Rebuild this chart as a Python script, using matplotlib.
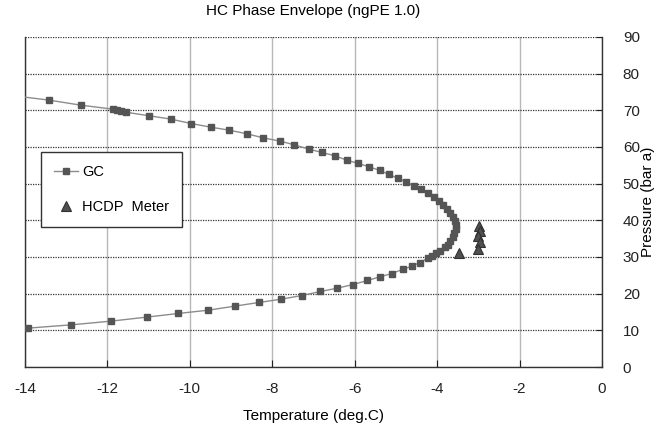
import matplotlib
matplotlib.use("Agg")
import matplotlib.pyplot as plt

plt.rcParams['font.family'] = ['Liberation Sans', 'DejaVu Sans']

# GC phase envelope (temperature degC, pressure bar a)
gc_temp = [-14.3, -13.43, -12.64, -11.86, -11.76, -11.66, -11.56, -10.98, -10.46, -9.97,
           -9.49, -9.05, -8.62, -8.22, -7.81, -7.47, -7.11, -6.79, -6.48, -6.19,
           -5.91, -5.65, -5.39, -5.17, -4.96, -4.75, -4.57, -4.39, -4.23, -4.08,
           -3.96, -3.85, -3.76, -3.68, -3.62, -3.57, -3.55, -3.55, -3.58, -3.62,
           -3.68, -3.74, -3.82, -3.92, -4.02, -4.12, -4.23, -4.42, -4.61, -4.84,
           -5.10, -5.38, -5.69, -6.04, -6.42, -6.83, -7.28, -7.78, -8.32, -8.91,
           -9.55, -10.28, -11.05, -11.92, -12.88, -13.93]
gc_pres = [74.0, 72.8, 71.4, 70.3, 70.1, 69.8, 69.5, 68.5, 67.6, 66.4,
           65.4, 64.6, 63.6, 62.5, 61.6, 60.6, 59.4, 58.5, 57.6, 56.4,
           55.5, 54.6, 53.6, 52.5, 51.5, 50.5, 49.4, 48.5, 47.4, 46.3,
           45.2, 44.2, 43.2, 42.1, 41.0, 39.9, 38.8, 37.7, 36.6, 35.5,
           34.4, 33.4, 32.6, 31.7, 31.1, 30.4, 29.6, 28.5, 27.5, 26.6,
           25.5, 24.6, 23.6, 22.5, 21.5, 20.6, 19.5, 18.5, 17.6, 16.6,
           15.5, 14.6, 13.6, 12.5, 11.5, 10.6]

# HCDP meter readings
meter_temp = [-3.47, -2.98, -2.95, -3.01, -2.97, -3.01]
meter_pres = [31.0, 38.4, 37.1, 35.7, 34.0, 32.1]

x_ticks = [-14, -12, -10, -8, -6, -4, -2, 0]
y_ticks = [0, 10, 20, 30, 40, 50, 60, 70, 80, 90]

fig = plt.figure(figsize=(6.67, 4.29), dpi=100)
ax = fig.add_axes([0.0375, 0.1445, 0.865, 0.7693])

ax.plot(gc_temp, gc_pres, color='#8c8c8c', lw=1.0, marker='s', ms=5,
        mfc='#555555', mec='#555555', label='GC', zorder=3)
ax.plot(meter_temp, meter_pres, ls='none', marker='^', ms=6.5,
        mfc='#505050', mec='#303030', mew=0.8, label='HCDP  Meter', zorder=4)

ax.set_xlim(-14, 0)
ax.set_ylim(0, 90)
ax.set_xticks(x_ticks)
ax.set_yticks(y_ticks)
ax.set_xticklabels([str(v) for v in x_ticks])

ax.yaxis.tick_right()
ax.yaxis.set_label_position('right')
ax.tick_params(axis='both', direction='in', labelsize=11, colors='#222222')
ax.tick_params(axis='x', length=5, pad=11)
ax.tick_params(axis='y', length=4, pad=15)

ax.grid(axis='x', color='#b8b8b8', lw=1.0, ls='-')
ax.grid(axis='y', color='#333333', lw=0.9, ls=(0, (1, 1)))
ax.set_axisbelow(True)

for s in ['left', 'right', 'bottom']:
    ax.spines[s].set_color('#333333')
    ax.spines[s].set_linewidth(1.0)
ax.spines['top'].set_visible(False)

ax.set_title('HC Phase Envelope (ngPE 1.0)', fontsize=11, pad=16)
ax.set_xlabel('Temperature (deg.C)', fontsize=11, labelpad=9)
ax.set_ylabel('Pressure (bar a)', fontsize=11, labelpad=1)

leg = ax.legend(loc='upper left', bbox_to_anchor=(0.028, 0.652), fancybox=False,
                edgecolor='#333333', framealpha=1, fontsize=10.5, labelspacing=1.45,
                handlelength=1.6, handletextpad=0.3, borderpad=0.9, borderaxespad=0)
leg.get_frame().set_linewidth(1.0)

fig.savefig('out.png', dpi=100)
